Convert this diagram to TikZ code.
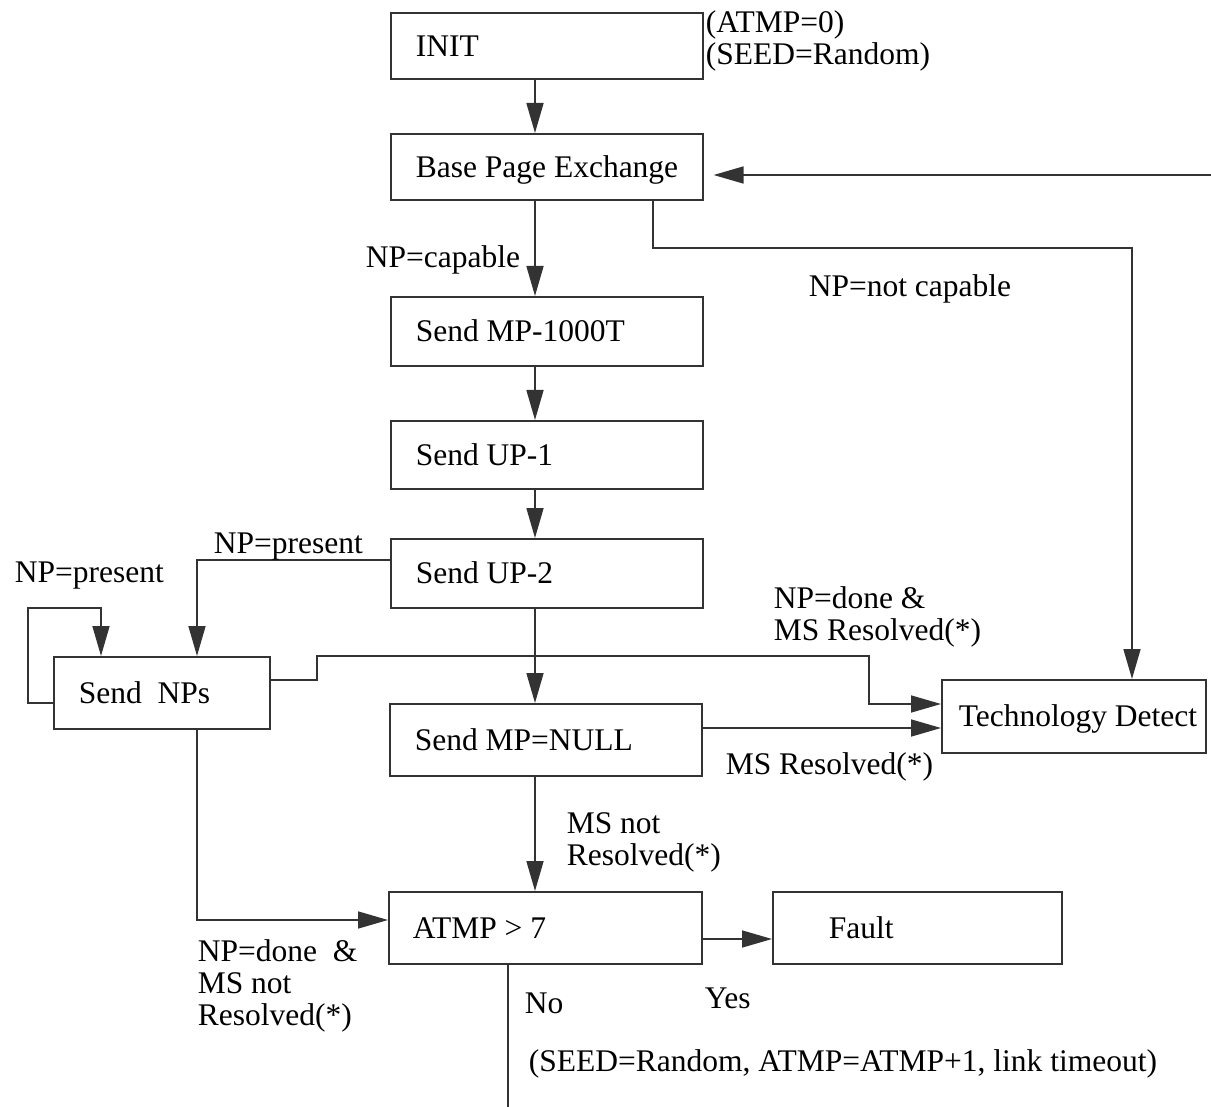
\documentclass[tikz,border=0pt]{standalone}
\usepackage{fontspec}
\setmainfont{Liberation Serif}
\usetikzlibrary{arrows.meta}
\newcommand\dfont{\fontsize{31.5}{32}\selectfont}
\begin{document}
\begin{tikzpicture}[x=1pt,y=-1pt, line width=1.6pt, draw=black!80,
  every node/.style={execute at begin node={\spaceskip=0pt\xspaceskip=0pt\relax}},
  box/.style={draw=black!80, anchor=north west, inner xsep=25pt, inner ysep=0pt, text height=21pt, text depth=0pt, align=left, font=\dfont},
  arr/.style={-{Triangle[length=30pt,width=17pt]}},
  lbl/.style={anchor=north west, inner sep=0pt, align=left, font=\dfont}]
\useasboundingbox (0,0) rectangle (1211,1107);
% boxes
\node[box, text width=262pt, minimum height=66pt] (init) at (390,12) {INIT};
\node[box, text width=262pt, minimum height=66pt] (bpe) at (390,133) {\mbox{Base Page Exchange}};
\node[box, text width=262pt, minimum height=69pt] (mp1000) at (390,296) {Send MP-1000T};
\node[box, text width=262pt, minimum height=68pt] (up1) at (390,420) {Send UP-1};
\node[box, text width=262pt, minimum height=69pt] (up2) at (390,538) {Send UP-2};
\node[box, text width=166pt, minimum height=72pt] (nps) at (53,656) {Send~ NPs};
\node[box, text width=262pt, minimum height=72pt] (null) at (389,703) {Send MP=NULL};
\node[box, inner xsep=17pt, text width=230pt, minimum height=73pt] (tech) at (941,679) {\mbox{Technology Detect}};
\node[box, inner xsep=24pt, text width=265pt, minimum height=72pt] (atmp) at (388,891) {ATMP > 7};
\node[box, inner xsep=56pt, text width=177pt, minimum height=72pt] (fault) at (772,891) {Fault};
% helper coordinates
\coordinate (cx) at (535,0);
\coordinate (redge) at (1211,175);
\coordinate (xa) at (653,0);
\coordinate (pturn) at (1132,248);
\coordinate (cnp) at (197,560);
\coordinate (ly) at (0,703);
\coordinate (l1) at (28,608);
\coordinate (l2) at (101,608);
\coordinate (y680) at (0,680);
\coordinate (s1) at (317,656);
\coordinate (s2) at (869,704);
\coordinate (y728) at (0,728);
\coordinate (xn) at (197,920);
\coordinate (y939) at (0,939);
\coordinate (bend) at (508,1107);
% connectors
\draw[arr] (init.south -| cx) -- (bpe.north -| cx);
\draw[arr, shorten >=10pt] (redge) -- (redge -| bpe.east);
\draw[arr] (bpe.south -| xa) |- (pturn) -- (pturn |- tech.north);
\draw[arr] (bpe.south -| cx) -- (mp1000.north -| cx);
\draw[arr] (mp1000.south -| cx) -- (up1.north -| cx);
\draw[arr] (up1.south -| cx) -- (up2.north -| cx);
\draw[arr] (up2.west |- cnp) -| (nps.north -| cnp);
\draw[arr] (nps.west |- ly) -| (l1) -- (l2) -- (l2 |- nps.north);
\draw[arr] (nps.east |- y680) -| (s1) -| (s2) -- (s2 -| tech.west);
\draw[arr] (up2.south -| cx) -- (null.north -| cx);
\draw[arr] (null.east |- y728) -- (tech.west |- y728);
\draw[arr] (null.south -| cx) -- (atmp.north -| cx);
\draw[arr] (nps.south -| xn) |- (atmp.west |- xn);
\draw[arr] (atmp.east |- y939) -- (fault.west |- y939);
\draw (atmp.south -| bend) -- (bend);
% labels
\node[lbl] (la) at (705,10) {(ATMP=0)\\(SEED=Random)};
\node[lbl] (lb) at (365,245) {NP=capable};
\node[lbl] (lc) at (808,274) {NP=not capable};
\node[lbl] (ld) at (213,532) {NP=present};
\node[lbl] (le) at (14,561) {NP=present};
\node[lbl] (lf) at (773,586) {NP=done \&\\MS Resolved(*)};
\node[lbl] (lg) at (725,752) {MS Resolved(*)};
\node[lbl] (lh) at (566,812) {MS not\\Resolved(*)};
\node[lbl] (li) at (197,939) {NP=done~ \&\\MS not\\Resolved(*)};
\node[lbl] (lj) at (524,992) {No};
\node[lbl] (lk) at (704,987) {Yes};
\node[lbl] (ll) at (528,1049) {(SEED=Random, ATMP=ATMP+1, link timeout)};
\end{tikzpicture}
\end{document}
